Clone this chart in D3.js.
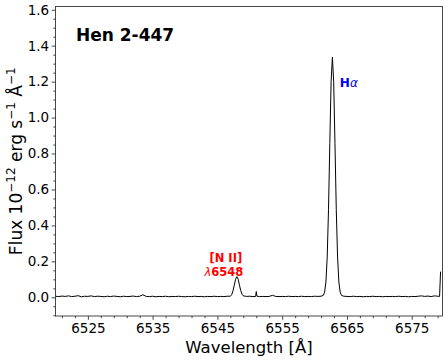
<!DOCTYPE html>
<html>
<head>
<meta charset="utf-8">
<script src="https://cdn.jsdelivr.net/npm/d3@7"></script>
<style>
  html, body { margin: 0; padding: 0; background: #fff; }
  svg { display: block; font-family: "DejaVu Sans", sans-serif; }
</style>
</head>
<body>
<svg id="chart" width="448" height="363"></svg>
<script>
// ---- Data ----
const title = "Hen 2-447";
const xTicks = [6525, 6535, 6545, 6555, 6565, 6575];
const yTicks = [0.0, 0.2, 0.4, 0.6, 0.8, 1.0, 1.2, 1.4, 1.6];
const xDomain = [6520.0, 6579.75];
const yDomain = [-0.104, 1.618];

const wavelength = [
  6520.0, 6520.5, 6521.0, 6521.5, 6522.0, 6522.5, 6523.0, 6523.5, 6524.0, 6524.5,
  6525.0, 6525.5, 6526.0, 6526.5, 6527.0, 6527.5, 6528.0, 6528.5, 6529.0, 6529.5,
  6530.0, 6530.5, 6531.0, 6531.5, 6532.0, 6532.5, 6533.0, 6533.5, 6534.0, 6534.5,
  6535.0, 6535.5, 6536.0, 6536.5, 6537.0, 6537.5, 6538.0, 6538.5, 6539.0, 6539.5,
  6540.0, 6540.5, 6541.0, 6541.5, 6542.0, 6542.5, 6543.0, 6543.5, 6544.0, 6544.5,
  6545.0, 6545.5, 6546.0, 6546.5, 6547.0,
  6547.2, 6547.4, 6547.6, 6547.8, 6548.0, 6548.2, 6548.4, 6548.6, 6548.8, 6549.0,
  6549.5, 6550.0, 6550.5, 6550.9, 6551.0, 6551.1, 6551.5, 6552.0, 6552.5, 6553.0,
  6553.5, 6554.0, 6554.5, 6555.0, 6555.5, 6556.0, 6556.5, 6557.0, 6557.5, 6558.0,
  6558.5, 6559.0, 6559.5, 6560.0, 6560.5, 6561.0,
  6561.35, 6561.55, 6561.75, 6561.95, 6562.15, 6562.35, 6562.55, 6562.75, 6562.95,
  6563.15, 6563.35, 6563.55, 6563.75, 6563.95, 6564.15,
  6564.5, 6565.0, 6565.5, 6566.0, 6566.5, 6567.0, 6567.5, 6568.0, 6568.5, 6569.0,
  6569.5, 6570.0, 6570.5, 6571.0, 6571.5, 6572.0, 6572.5, 6573.0, 6573.5, 6574.0,
  6574.5, 6575.0, 6575.5, 6576.0, 6576.5, 6577.0, 6577.5, 6578.0, 6578.5, 6579.0,
  6579.3, 6579.45
];
const flux = [
  0.006, 0.004, 0.007, 0.005, 0.008, 0.004, 0.006, 0.009, 0.003, 0.006,
  0.005, 0.008, 0.004, 0.006, 0.005, 0.003, 0.006, 0.004, 0.007, 0.005,
  0.003, 0.006, 0.004, 0.005, 0.007, 0.004, 0.006, 0.014, 0.005, 0.004,
  0.006, 0.003, 0.005, 0.004, 0.006, 0.003, 0.005, 0.004, 0.006, 0.004,
  0.003, 0.005, 0.004, 0.006, 0.004, 0.005, 0.003, 0.005, 0.004, 0.006,
  0.004, 0.005, 0.004, 0.006, 0.006,
  0.014, 0.036, 0.067, 0.100, 0.115, 0.101, 0.068, 0.037, 0.017, 0.008,
  0.005, 0.006, 0.004, 0.005, 0.032, 0.006, 0.004, 0.005, 0.004, 0.005,
  0.011, 0.005, 0.004, 0.005, 0.004, 0.006, 0.004, 0.005, 0.004, 0.006,
  0.004, 0.005, 0.004, 0.006, 0.005, 0.006,
  0.011, 0.029, 0.085, 0.224, 0.488, 0.855, 1.199, 1.336, 1.199,
  0.855, 0.488, 0.224, 0.085, 0.029, 0.011,
  0.006, 0.005, 0.004, 0.006, 0.004, 0.005, 0.003, 0.005, 0.004, 0.006,
  0.004, 0.005, 0.003, 0.005, 0.004, 0.005, 0.004, 0.006, 0.004, 0.005,
  0.003, 0.005, 0.004, 0.006, 0.008, 0.005, 0.007, 0.004, 0.008, 0.006,
  0.005, 0.143
];

// ---- Layout ----
const svg = d3.select("#chart");
const L = 55.5, T = 6.5, R = 442.5, B = 316;
const x = d3.scaleLinear().domain(xDomain).range([L, R]);
const y = d3.scaleLinear().domain(yDomain).range([B, T]);
const axisColor = "#333";

// minor ticks
const xMinor = d3.range(6521, 6580, 2).filter(v => !xTicks.includes(v));
const yMinor = d3.range(-0.1, 1.6001, 0.05).map(v => +v.toFixed(2)).filter(v => !yTicks.some(t => Math.abs(t - v) < 1e-6));

function styleAxis(g) {
  g.select(".domain").remove();
  g.selectAll(".tick line").attr("stroke", axisColor).attr("stroke-width", 0.9);
  g.selectAll(".tick text").attr("fill", "#000").attr("font-size", 13.5)
    .attr("font-family", "DejaVu Sans, sans-serif");
}

svg.append("g").attr("transform", `translate(0,${B})`)
  .call(d3.axisBottom(x).tickValues(xMinor).tickSize(2.2).tickFormat(""))
  .call(styleAxis);
svg.append("g").attr("transform", `translate(0,${B})`)
  .call(d3.axisBottom(x).tickValues(xTicks).tickSize(3.8).tickPadding(3.5).tickFormat(d3.format("d")))
  .call(styleAxis);
svg.append("g").attr("transform", `translate(${L},0)`)
  .call(d3.axisLeft(y).tickValues(yMinor).tickSize(2.2).tickFormat(""))
  .call(styleAxis);
svg.append("g").attr("transform", `translate(${L},0)`)
  .call(d3.axisLeft(y).tickValues(yTicks).tickSize(3.8).tickPadding(2.5).tickFormat(d3.format(".1f")))
  .call(styleAxis);

// spectrum
const pts = wavelength.map((w, i) => [w, flux[i]]);
svg.append("defs").append("clipPath").attr("id", "clip")
  .append("rect").attr("x", L).attr("y", T).attr("width", R - L).attr("height", B - T);
svg.append("path")
  .datum(pts)
  .attr("clip-path", "url(#clip)")
  .attr("fill", "none")
  .attr("stroke", "#000")
  .attr("stroke-width", 1)
  .attr("stroke-linejoin", "round")
  .attr("d", d3.line().x(d => x(d[0])).y(d => y(d[1])));

// frame
svg.append("rect").attr("x", L).attr("y", T).attr("width", R - L).attr("height", B - T)
  .attr("fill", "none").attr("stroke", axisColor).attr("stroke-width", 0.9);

// axis labels
svg.append("text")
  .attr("x", (L + R) / 2).attr("y", 353)
  .attr("text-anchor", "middle").attr("font-size", 16.5).attr("fill", "#000")
  .text("Wavelength [Å]");

const yl = svg.append("text")
  .attr("transform", `translate(22,${(T + B) / 2}) rotate(-90)`)
  .attr("text-anchor", "middle").attr("font-size", 17).attr("fill", "#000");
yl.append("tspan").text("Flux 10");
yl.append("tspan").attr("dy", -7).attr("font-size", 12).text("−12");
yl.append("tspan").attr("dy", 7).text(" erg s");
yl.append("tspan").attr("dy", -7).attr("font-size", 12).text("−1");
yl.append("tspan").attr("dy", 7).text(" Å");
yl.append("tspan").attr("dy", -7).attr("font-size", 12).text("−1");

// title
svg.append("text").attr("x", 76).attr("y", 41)
  .attr("font-size", 17).attr("font-weight", "bold").attr("fill", "#000")
  .text(title);

// line annotations
const ha = svg.append("text").attr("x", x(6563.9)).attr("y", y(1.17))
  .attr("font-size", 12).attr("font-weight", "bold").attr("fill", "#0000ff");
ha.append("tspan").text("H");
ha.append("tspan").attr("font-style", "italic").attr("font-weight", "normal").text("α");

svg.append("text").attr("x", x(6546.3)).attr("y", 262)
  .attr("text-anchor", "middle").attr("font-size", 11.5).attr("font-weight", "bold")
  .attr("fill", "#ff0000").text("[N II]");
const nl = svg.append("text").attr("x", x(6546.0)).attr("y", 275.8)
  .attr("text-anchor", "middle").attr("font-size", 11.5).attr("font-weight", "bold")
  .attr("fill", "#ff0000");
nl.append("tspan").attr("font-style", "italic").attr("font-weight", "normal").text("λ");
nl.append("tspan").text("6548");
</script>
</body>
</html>
